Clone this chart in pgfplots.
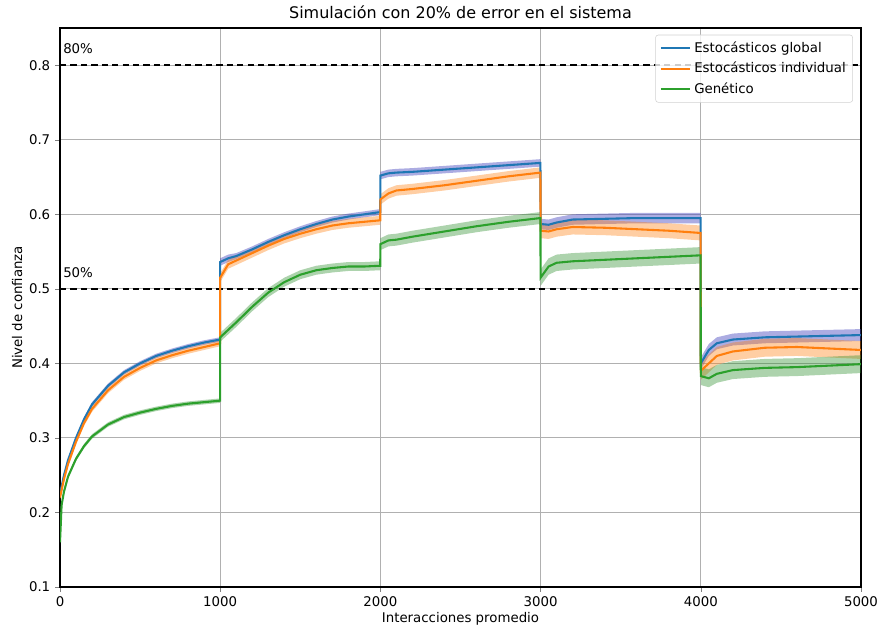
\documentclass[border=0pt]{standalone}
\usepackage{fontspec}
\setmainfont{DejaVu Sans}
\usepackage{pgfplots}
\usepackage{pgfplotstable}
\pgfplotsset{compat=1.18}
\usepgfplotslibrary{fillbetween}
\definecolor{cA}{RGB}{31,119,180}
\definecolor{cB}{RGB}{255,127,14}
\definecolor{cC}{RGB}{44,160,44}
\definecolor{bandA}{RGB}{70,70,190}
\definecolor{bandC}{RGB}{40,140,40}
\definecolor{gridc}{RGB}{176,176,176}
\pgfplotstableread{
x b bw o ow g gw
0 0.225 0.003 0.220 0.004 0.160 0.003
10 0.235 0.003 0.230 0.004 0.210 0.003
25 0.250 0.003 0.245 0.004 0.228 0.003
50 0.270 0.003 0.265 0.004 0.248 0.003
100 0.300 0.003 0.295 0.004 0.272 0.003
150 0.325 0.003 0.320 0.004 0.289 0.003
200 0.345 0.003 0.339 0.004 0.302 0.003
300 0.370 0.003 0.364 0.004 0.318 0.003
400 0.388 0.003 0.382 0.004 0.328 0.003
500 0.400 0.003 0.394 0.004 0.334 0.003
600 0.410 0.003 0.404 0.004 0.339 0.003
700 0.417 0.003 0.411 0.004 0.343 0.003
800 0.423 0.003 0.417 0.004 0.346 0.003
900 0.428 0.003 0.422 0.004 0.348 0.003
999 0.432 0.003 0.427 0.004 0.350 0.003
1000 0.536 0.005 0.515 0.006 0.435 0.006
1050 0.541 0.005 0.533 0.006 0.445 0.006
1100 0.544 0.004 0.538 0.006 0.455 0.006
1200 0.553 0.004 0.548 0.006 0.476 0.006
1300 0.563 0.004 0.558 0.006 0.495 0.006
1400 0.572 0.004 0.567 0.006 0.509 0.006
1500 0.580 0.004 0.574 0.006 0.519 0.006
1600 0.587 0.004 0.580 0.006 0.525 0.006
1700 0.593 0.004 0.585 0.006 0.528 0.006
1800 0.597 0.004 0.588 0.006 0.530 0.006
1900 0.600 0.004 0.590 0.006 0.530 0.006
1999 0.603 0.004 0.592 0.006 0.531 0.006
2000 0.652 0.005 0.620 0.007 0.560 0.008
2050 0.655 0.005 0.628 0.007 0.565 0.008
2100 0.656 0.005 0.632 0.007 0.566 0.008
2200 0.657 0.005 0.634 0.007 0.570 0.008
2400 0.660 0.005 0.639 0.007 0.577 0.008
2600 0.663 0.005 0.645 0.007 0.584 0.008
2800 0.666 0.005 0.651 0.007 0.590 0.008
2999 0.669 0.005 0.656 0.007 0.595 0.008
3000 0.587 0.007 0.578 0.010 0.515 0.011
3050 0.586 0.007 0.577 0.010 0.530 0.011
3100 0.589 0.007 0.580 0.010 0.535 0.011
3200 0.593 0.007 0.583 0.010 0.537 0.011
3400 0.594 0.007 0.582 0.010 0.539 0.011
3600 0.595 0.007 0.580 0.010 0.541 0.011
3800 0.595 0.007 0.578 0.010 0.543 0.011
3999 0.595 0.007 0.575 0.010 0.545 0.011
4000 0.400 0.008 0.390 0.012 0.383 0.012
4050 0.418 0.008 0.400 0.012 0.380 0.012
4100 0.427 0.008 0.410 0.012 0.386 0.012
4200 0.432 0.008 0.416 0.012 0.391 0.012
4400 0.435 0.008 0.421 0.012 0.394 0.012
4600 0.436 0.008 0.422 0.012 0.395 0.012
4800 0.437 0.008 0.420 0.012 0.397 0.012
5000 0.438 0.008 0.418 0.012 0.399 0.012
}\data
\begin{document}
\begin{tikzpicture}
\begin{axis}[
  scale only axis,
  width=576.72pt, height=402.48pt,
  at={(0pt,0pt)}, anchor=south west,
  xmin=0, xmax=5000, ymin=0.1, ymax=0.85,
  xtick={0,1000,2000,3000,4000,5000},
  ytick={0.1,0.2,0.3,0.4,0.5,0.6,0.7,0.8},
  yticklabel style={/pgf/number format/.cd, fixed, fixed zerofill, precision=1},
  xticklabel style={/pgf/number format/set thousands separator={}, inner xsep=0pt},
  /pgf/number format/assume math mode=true,
  tick label style={font=\fontsize{9.6}{11.5}\selectfont},
  tick align=outside, tick pos=left,
  major tick length=3.5pt,
  grid=major, grid style={gridc, line width=0.8pt},
  axis line style={line width=0.8pt},
  title={Simulación con 20\% de error en el sistema},
  title style={font=\fontsize{11.5}{14}\selectfont, yshift=-3pt},
  xlabel={Interacciones promedio},
  ylabel={Nivel de confianza},
  label style={font=\fontsize{9.6}{11.5}\selectfont},
  xlabel style={yshift=3pt},
  ylabel style={yshift=-2pt},
  legend style={at={(0.99,0.988)}, anchor=north east, draw=gray!35, rounded corners=2pt,
    fill=white, fill opacity=0.8, text opacity=1, font=\fontsize{9.6}{11.5}\selectfont,
    row sep=1.5pt, inner sep=3pt},
  legend cell align=left,
  legend image code/.code={\draw[#1] (0cm,0cm) -- (0.75cm,0cm);},
]
% bands
\addplot[name path=ah, draw=none, forget plot] table[x=x, y expr=\thisrow{b}+\thisrow{bw}]{\data};
\addplot[name path=al, draw=none, forget plot] table[x=x, y expr=\thisrow{b}-\thisrow{bw}]{\data};
\addplot[bandA, fill opacity=0.45, forget plot] fill between[of=ah and al];
\addplot[name path=bh, draw=none, forget plot] table[x=x, y expr=\thisrow{o}+\thisrow{ow}]{\data};
\addplot[name path=bl, draw=none, forget plot] table[x=x, y expr=\thisrow{o}-\thisrow{ow}]{\data};
\addplot[cB, fill opacity=0.38, forget plot] fill between[of=bh and bl];
\addplot[name path=ch, draw=none, forget plot] table[x=x, y expr=\thisrow{g}+\thisrow{gw}]{\data};
\addplot[name path=cl, draw=none, forget plot] table[x=x, y expr=\thisrow{g}-\thisrow{gw}]{\data};
\addplot[bandC, fill opacity=0.38, forget plot] fill between[of=ch and cl];
% reference lines
\addplot[black, line width=1.2pt, dash pattern=on 4.5pt off 3pt, forget plot] coordinates {(0,0.8) (5000,0.8)};
\addplot[black, line width=1.2pt, dash pattern=on 4.5pt off 3pt, forget plot] coordinates {(0,0.5) (5000,0.5)};
% lines
\addplot[cA, line width=1.5pt] table[x=x, y=b]{\data};
\addlegendentry{Estocásticos global}
\addplot[cB, line width=1.5pt] table[x=x, y=o]{\data};
\addlegendentry{Estocásticos individual}
\addplot[cC, line width=1.5pt] table[x=x, y=g]{\data};
\addlegendentry{Genético}
\node[anchor=south west, font=\fontsize{9.6}{11.5}\selectfont, inner sep=1pt] at (axis cs:10,0.813) {80\%};
\node[anchor=south west, font=\fontsize{9.6}{11.5}\selectfont, inner sep=1pt] at (axis cs:10,0.513) {50\%};
\end{axis}
\path (-43.2pt,-32.4pt) rectangle (588.96pt,422.64pt);
\end{tikzpicture}
\end{document}
